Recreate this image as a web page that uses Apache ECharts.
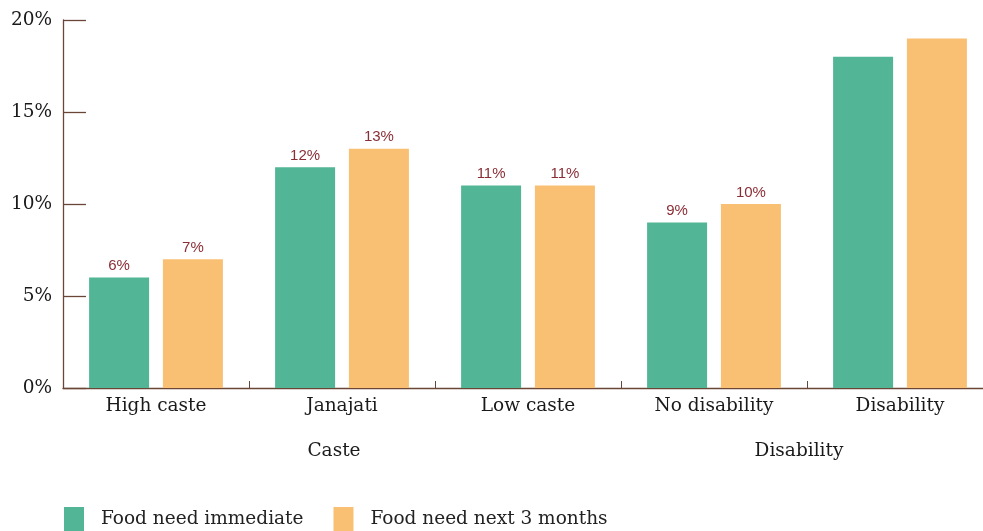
<!DOCTYPE html>
<html>
<head>
<meta charset="utf-8">
<style>
  html, body { margin: 0; padding: 0; background: #ffffff; overflow: hidden; }
  #chart { width: 1000px; height: 531px; }
</style>
<script src="https://cdn.jsdelivr.net/npm/echarts@6/dist/echarts.min.js"></script>
</head>
<body>
<div id="chart"></div>
<script>
// Groups of categories shown along the x axis
const categories = ['High caste', 'Janajati', 'Low caste', 'No disability', 'Disability'];
const groupLabels = ['Caste', 'Disability'];
const groupAnchors = [['Janajati'], ['No disability', 'Disability']];

// Share of households reporting food need (%)
const seriesNames = ['Food need immediate', 'Food need next 3 months'];
const foodImmediate = [6, 12, 11, 9, 18];
const foodNext3Months = [7, 13, 11, 10, 19];
// Categories whose bars carry a value label
const labelled = [true, true, true, true, false];

const yTicks = [0, 5, 10, 15, 20];

const serif = '"DejaVu Serif", "Liberation Serif", serif';
const axisColor = '#6b4636';
const labelColor = '#8a2e36';
const colors = ['#52b596', '#f9c073'];
const textSize = 18.5;

function withLabels(values) {
  return values.map((v, i) => ({ value: v, label: { show: labelled[i] } }));
}

const valueLabel = {
  position: 'top', distance: 4, color: labelColor,
  fontFamily: '"Liberation Sans", Arial, sans-serif', fontSize: 15,
  formatter: p => p.value + '%'
};

const chart = echarts.init(document.getElementById('chart'), null, { renderer: 'canvas' });

const option = {
  animation: false,
  color: colors,
  grid: { left: 63, width: 930, top: 20, height: 368, containLabel: false },
  legend: {
    data: seriesNames,
    left: 64,
    top: 507,
    padding: 0,
    itemWidth: 20,
    itemHeight: 24,
    itemGap: 30,
    icon: 'rect',
    textStyle: { fontFamily: serif, fontSize: textSize, color: '#222', padding: [0, 0, 0, 12] }
  },
  xAxis: {
    type: 'category',
    data: categories,
    axisLine: { lineStyle: { color: axisColor, width: 1.3 } },
    axisTick: { show: true, inside: true, length: 7, lineStyle: { color: axisColor } },
    axisLabel: { fontFamily: serif, fontSize: textSize, color: '#1a1a1a', margin: 9 }
  },
  yAxis: {
    type: 'value',
    min: yTicks[0],
    max: yTicks[yTicks.length - 1],
    interval: 5,
    axisLine: { show: true, lineStyle: { color: axisColor, width: 1.3 } },
    axisTick: { show: true, inside: true, length: 23, lineStyle: { color: axisColor, width: 1.3 } },
    splitLine: { show: false },
    axisLabel: {
      fontFamily: serif, fontSize: textSize, color: '#1a1a1a', margin: 11,
      padding: [6, 0, 0, 0],
      formatter: v => v + '%'
    }
  },
  series: [
    {
      name: seriesNames[0],
      type: 'bar',
      data: withLabels(foodImmediate),
      barWidth: 60,
      barGap: '23%',
      label: valueLabel
    },
    {
      name: seriesNames[1],
      type: 'bar',
      data: withLabels(foodNext3Months),
      barWidth: 60,
      label: valueLabel
    }
  ]
};

chart.setOption(option);

// Group captions centred under their categories
const graphics = groupLabels.map((text, i) => {
  const xs = groupAnchors[i].map(c => chart.convertToPixel({ xAxisIndex: 0 }, c));
  const cx = xs.reduce((a, b) => a + b, 0) / xs.length;
  return {
    type: 'text',
    x: cx - 8,
    y: 451,
    style: {
      text: text, fontFamily: serif, fontSize: textSize, fill: '#1a1a1a',
      textAlign: 'center', textVerticalAlign: 'middle'
    }
  };
});
chart.setOption({ graphic: graphics });
</script>
</body>
</html>
